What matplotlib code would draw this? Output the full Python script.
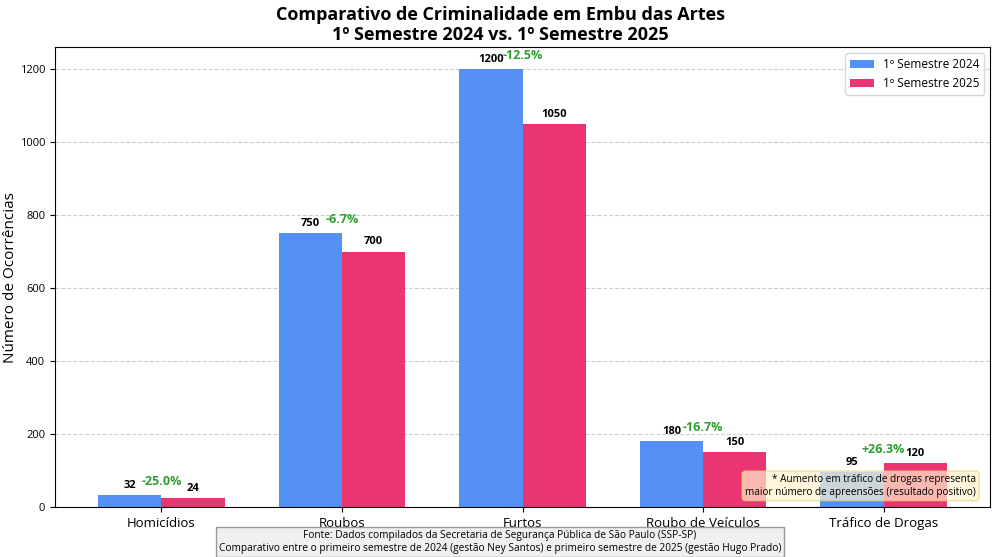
import numpy as np
import matplotlib.pyplot as plt

plt.rcParams['font.family'] = ['Open Sans', 'DejaVu Sans']

categorias = ['Homicídios', 'Roubos', 'Furtos', 'Roubo de Veículos', 'Tráfico de Drogas']
sem_2024 = [32, 750, 1200, 180, 95]
sem_2025 = [24, 700, 1050, 150, 120]
variacao = ['-25.0%', '-6.7%', '-12.5%', '-16.7%', '+26.3%']

cor_2024 = '#4285F4'
cor_2025 = '#E91E63'

x = np.arange(len(categorias))
w = 0.35

fig, ax = plt.subplots(figsize=(10, 5.57), dpi=100)
fig.subplots_adjust(left=0.055, right=0.99, top=0.915, bottom=0.09)

b1 = ax.bar(x - w/2, sem_2024, w, color=cor_2024, alpha=0.9, label='1º Semestre 2024')
b2 = ax.bar(x + w/2, sem_2025, w, color=cor_2025, alpha=0.9, label='1º Semestre 2025')

for bars in (b1, b2):
    for b in bars:
        h = b.get_height()
        ax.text(b.get_x() + b.get_width()/2, h + 12, f'{int(h)}',
                ha='center', va='bottom', fontsize=8, fontweight='bold')

for i, pct in enumerate(variacao):
    topo = max(sem_2024[i], sem_2025[i])
    ax.text(x[i], topo + 20, pct, ha='center', va='bottom', fontsize=9,
            fontweight='bold', color='#2E9E2E')

ax.set_xticks(x)
ax.set_xticklabels(categorias, fontsize=9.5)
ax.tick_params(axis='y', labelsize=8)
ax.set_ylabel('Número de Ocorrências', fontsize=11, labelpad=1)
ax.set_ylim(0, 1260)
ax.set_xlim(-0.59, 4.59)
ax.yaxis.grid(True, linestyle='--', alpha=0.6)
ax.set_axisbelow(True)
ax.legend(loc='upper right', fontsize=8.5)

fig.suptitle('Comparativo de Criminalidade em Embu das Artes\n1º Semestre 2024 vs. 1º Semestre 2025',
             fontsize=13, fontweight='bold', y=0.99)

ax.text(0.985, 0.02, '* Aumento em tráfico de drogas representa\nmaior número de apreensões (resultado positivo)',
        transform=ax.transAxes, ha='right', va='bottom', fontsize=7.2,
        bbox=dict(boxstyle='round,pad=0.3', facecolor='#FFF3CD', edgecolor='#E8D27A', alpha=0.7))

fig.text(0.5, 0.006, 'Fonte: Dados compilados da Secretaria de Segurança Pública de São Paulo (SSP-SP)\n'
         'Comparativo entre o primeiro semestre de 2024 (gestão Ney Santos) e primeiro semestre de 2025 (gestão Hugo Prado)',
         ha='center', va='bottom', fontsize=7.25,
         bbox=dict(boxstyle='square,pad=0.3', facecolor='#F0F0F0', edgecolor='#999999'))

plt.savefig('out.png')
